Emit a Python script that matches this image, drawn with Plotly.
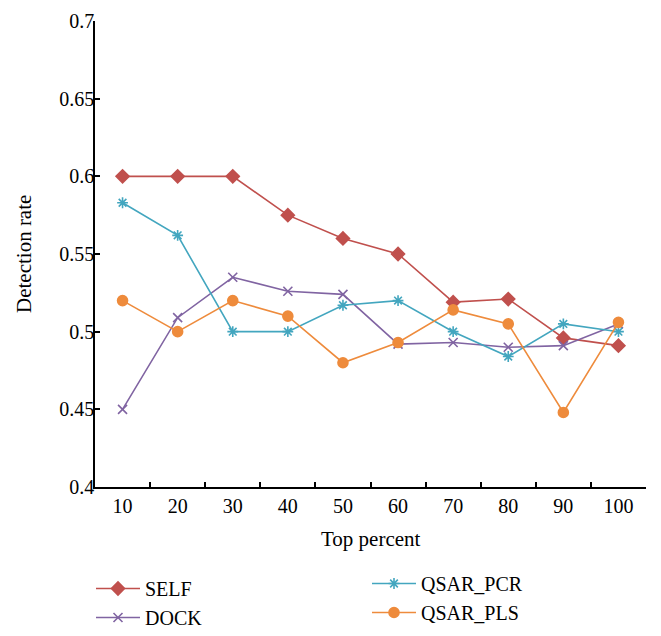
import plotly.graph_objects as go

# top percent categories (x axis)
top_percent = ["10", "20", "30", "40", "50", "60", "70", "80", "90", "100"]

# detection rates
self_rate = [0.600, 0.600, 0.600, 0.575, 0.560, 0.550, 0.519, 0.521, 0.496, 0.491]
dock_rate = [0.450, 0.509, 0.535, 0.526, 0.524, 0.492, 0.493, 0.490, 0.491, 0.505]
pcr_rate = [0.583, 0.562, 0.500, 0.500, 0.517, 0.520, 0.500, 0.484, 0.505, 0.500]
pls_rate = [0.520, 0.500, 0.520, 0.510, 0.480, 0.493, 0.514, 0.505, 0.448, 0.506]

FONT = "Liberation Serif, Times New Roman, serif"

# page body has an 8px margin, so the figure is 8px smaller than the window
W, H = 653, 628
L, R, T, B = 87, 15, 13, 149
PW, PH = W - L - R, H - T - B

series = [
    ("SELF", self_rate, "#C0504D", "diamond", 10, "legend"),
    ("DOCK", dock_rate, "#8064A2", "x-thin-open", 9, "legend"),
    ("QSAR_PCR", pcr_rate, "#43A6BF", "asterisk-open", 9, "legend2"),
    ("QSAR_PLS", pls_rate, "#EE8B3C", "circle", 10, "legend2"),
]

fig = go.Figure()
for name, vals, col, sym, size, leg in series:
    fig.add_trace(go.Scatter(
        x=top_percent, y=vals, name=name, mode="lines+markers",
        line=dict(color=col, width=1.6),
        marker=dict(symbol=sym, size=size, color=col,
                    line=dict(color=col, width=1.6)),
        legend=leg,
    ))

axis_common = dict(
    showline=True, linecolor="black", linewidth=1.5,
    showgrid=False, zeroline=False,
    ticks="inside", ticklen=5, tickcolor="black", tickwidth=1.5,
    tickfont=dict(family=FONT, size=20, color="black"),
    automargin=False,
)

fig.update_xaxes(
    type="category", tickson="boundaries", range=[-0.5, 9.5],
    tickangle=0, ticklabelstandoff=0,
    **axis_common,
)
fig.update_yaxes(
    range=[0.4, 0.7], dtick=0.05, tick0=0.4,
    ticklabelstandoff=-5,
    **axis_common,
)

title_font = dict(family=FONT, size=21, color="black")
fig.add_annotation(text="Top percent", xref="paper", yref="paper",
                   x=0.5, y=(T + PH - 531) / PH, showarrow=False,
                   xanchor="center", yanchor="middle", font=title_font)
fig.add_annotation(text="Detection rate", xref="paper", yref="paper",
                   x=(16 - L) / PW, y=0.5, showarrow=False, textangle=-90,
                   xanchor="center", yanchor="middle", font=title_font)

legend_common = dict(
    font=dict(family=FONT, size=20, color="black"),
    bgcolor="rgba(0,0,0,0)", orientation="v",
    xref="container", yref="container",
    xanchor="left", yanchor="top",
    tracegroupgap=0, itemwidth=44,
)

fig.update_layout(
    width=W, height=H,
    margin=dict(l=L, r=R, t=T, b=B, autoexpand=False),
    plot_bgcolor="white", paper_bgcolor="white",
    font=dict(family=FONT, size=20, color="black"),
    showlegend=True,
    legend=dict(x=83 / W, y=1 - 561 / H, **legend_common),
    legend2=dict(x=359 / W, y=1 - 556 / H, **legend_common),
)

fig.write_html("out.html")
